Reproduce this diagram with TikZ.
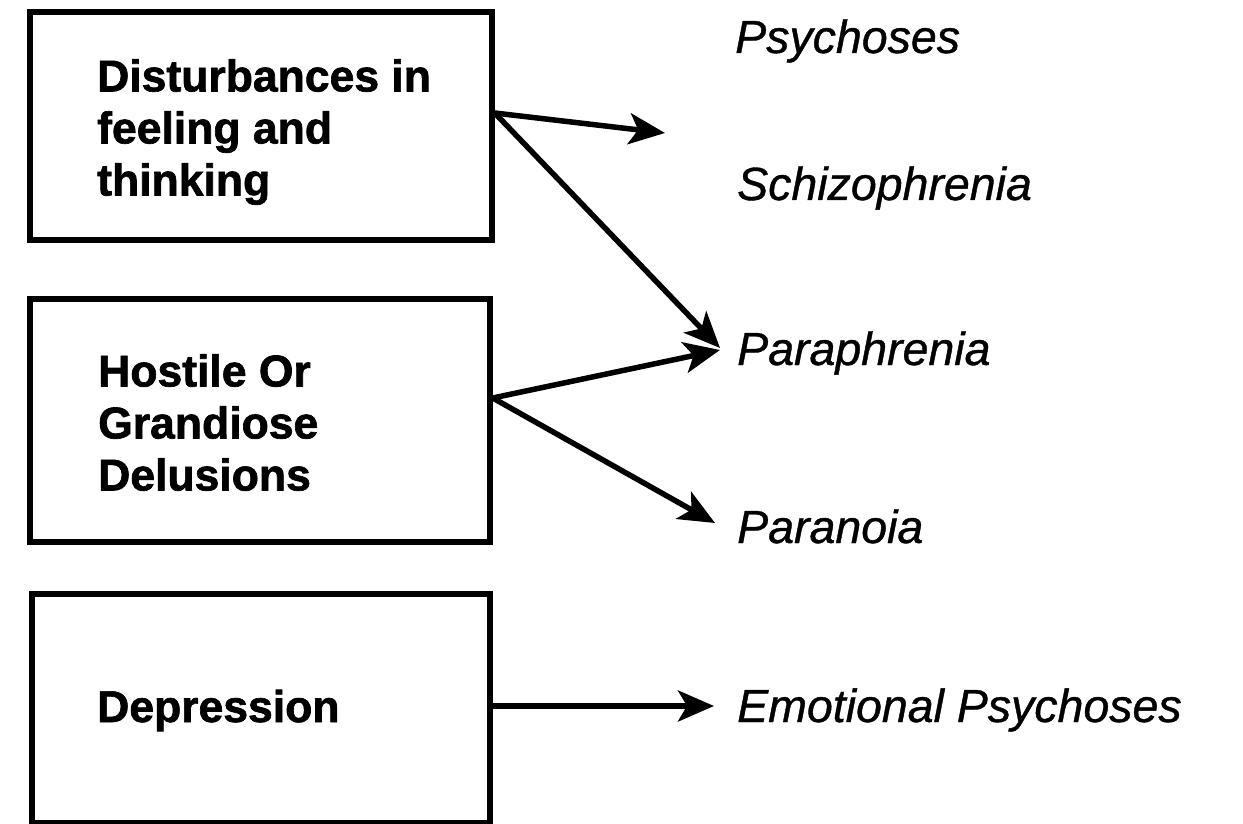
\documentclass[tikz,border=0pt]{standalone}
\usepackage{fontspec}
\setmainfont{Liberation Sans}[BoldFeatures={FakeBold=1.5}, ItalicFeatures={FakeBold=0.8}]
\usetikzlibrary{arrows.meta}
\begin{document}
\begin{tikzpicture}[x=1pt,y=-1pt,
  boxnode/.style={draw=black, line width=5.5pt, inner sep=0pt, rectangle},
  boxtext/.style={inner sep=0pt, align=left, font=\fontsize{44.5}{52}\selectfont\bfseries},
  lbl/.style={inner sep=0pt, anchor=base west, font=\fontsize{46.5}{52}\selectfont\itshape},
  conn/.style={line width=5.5pt, -{Stealth[length=36pt, width=31pt, inset=9pt]}}]
\useasboundingbox (0,0) rectangle (1243,824);
\fill[white] (0,0) rectangle (1243,824);
% boxes
\node[boxnode, minimum width=462pt, minimum height=228pt] (b1) at (261,126) {};
\node[boxnode, minimum width=460pt, minimum height=243pt] (b2) at (260,420.5) {};
\node[boxnode, minimum width=458pt, minimum height=229pt] (b3) at (261,708.5) {};
% box texts
\node[boxtext, anchor=north west] (t1) at (97,59) {Disturbances in\\feeling and\\thinking};
\node[boxtext, anchor=north west] (t2) at (98,354) {Hostile Or\\Grandiose\\Delusions};
\node[boxtext, anchor=base west] (t3) at (97,722) {Depression};
% right labels
\node[lbl] (l1) at (735,53) {Psychoses};
\node[lbl] (l2) at (737,200) {Schizophrenia};
\node[lbl] (l3) at (737,365) {Paraphrenia};
\node[lbl] (l4) at (737,543) {Paranoia};
\node[lbl] (l5) at (737,722) {Emotional Psychoses};
% connector points
\coordinate (s1) at (b1.east |- 0,113);
\coordinate (s2) at (b2.east |- 0,398);
\coordinate (s3) at (b3.east |- 0,706);
\coordinate (e1) at (665,133);
\coordinate (e2) at (720,348);
\coordinate (e3) at (720,350);
\coordinate (e4) at (715,523);
\coordinate (e5) at (714,706);
\draw[conn] (s1) -- (e1);
\draw[conn] (s1) -- (e2);
\draw[conn] (s2) -- (e3);
\draw[conn] (s2) -- (e4);
\draw[conn] (s3) -- (e5);
\end{tikzpicture}
\end{document}
